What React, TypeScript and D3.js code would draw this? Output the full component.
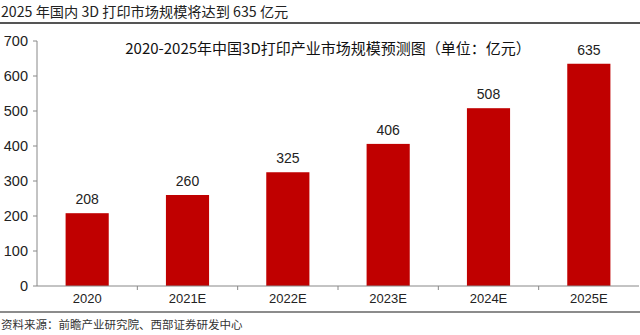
import React from "react";
import * as d3 from "d3";

const categories = ["2020", "2021E", "2022E", "2023E", "2024E", "2025E"];
const values = [208, 260, 325, 406, 508, 635];
const yTicks = [0, 100, 200, 300, 400, 500, 600, 700];
const headline = "2025 年国内 3D 打印市场规模将达到 635 亿元";
const chartTitle = "2020-2025年中国3D打印产业市场规模预测图（单位：亿元）";
const source = "资料来源：前瞻产业研究院、西部证券研发中心";

export default function App() {
  const W = 640, H = 335;
  const left = 37, right = 639, top = 41, bottom = 286;
  const x = d3.scaleBand<string>().domain(categories).range([left, right]).paddingInner(0.57).paddingOuter(0.285);
  const y = d3.scaleLinear().domain([0, 700]).range([bottom, top]);
  const outer = d3.scaleBand<string>().domain(categories).range([left, right]);
  const font = "Arial, 'Liberation Sans', sans-serif";
  const cjk = "'Noto Sans CJK SC', sans-serif";
  return (
    <svg width={W} height={H} style={{ position: "absolute", left: 0, top: 0, background: "#fff" }}>
      <text x={1} y={17} fontFamily={cjk} fontSize={14.2} fill="#222">{headline}</text>
      <line x1={0} x2={W} y1={23} y2={23} stroke="#555" strokeWidth={2} />
      <text x={328} y={54} textAnchor="middle" fontFamily={cjk} fontSize={15} fill="#111">{chartTitle}</text>
      {yTicks.map((t) => (
        <g key={t}>
          <line x1={left - 4} x2={left} y1={y(t)} y2={y(t)} stroke="#888" />
          <text x={28} y={y(t) + 5} textAnchor="end" fontFamily={font} fontSize={14.5} fill="#222">{t}</text>
        </g>
      ))}
      <line x1={left} x2={left} y1={top} y2={bottom} stroke="#888" />
      {categories.map((c, i) => (
        <g key={c}>
          <rect x={x(c)} y={y(values[i])} width={x.bandwidth()} height={bottom - y(values[i])} fill="#C00000" />
          <text x={(x(c) as number) + x.bandwidth() / 2} y={y(values[i]) - 9} textAnchor="middle" fontFamily={font} fontSize={14} fill="#222">{values[i]}</text>
          <text x={(x(c) as number) + x.bandwidth() / 2} y={bottom + 17} textAnchor="middle" fontFamily={font} fontSize={13} fill="#222">{c}</text>
          {i > 0 && <line x1={outer(c)} x2={outer(c)} y1={bottom} y2={bottom + 4} stroke="#888" />}
        </g>
      ))}
      <line x1={left} x2={right} y1={bottom} y2={bottom} stroke="#888" />
      <line x1={0} x2={W} y1={312} y2={312} stroke="#666" strokeWidth={1.5} />
      <text x={1} y={329} fontFamily={cjk} fontSize={11.5} fill="#333">{source}</text>
    </svg>
  );
}
